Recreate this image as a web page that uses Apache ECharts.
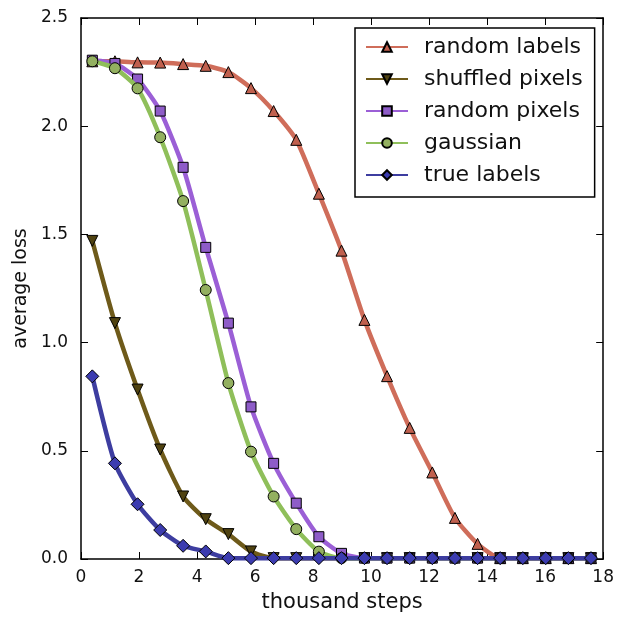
<!DOCTYPE html>
<html>
<head>
  <meta charset="utf-8" />
  <title>average loss</title>
  <script src="https://cdn.jsdelivr.net/npm/echarts@6/dist/echarts.min.js"></script>
  <style>
    html, body { margin: 0; padding: 0; background: #fff; }
    #chart { width: 617px; height: 618px; }
  </style>
</head>
<body>
  <div id="chart"></div>
  <script>
    // x positions of the markers (thousand steps)
    var steps = [0.39, 1.17, 1.95, 2.73, 3.52, 4.30, 5.08, 5.86, 6.64, 7.42, 8.20, 8.98,
                 9.77, 10.55, 11.33, 12.11, 12.89, 13.67, 14.45, 15.23, 16.02, 16.80, 17.58];

    var seriesNames = ['random labels', 'shuffled pixels', 'random pixels', 'gaussian', 'true labels'];

    var randomLabels   = [2.30, 2.30, 2.295, 2.294, 2.287, 2.279, 2.25, 2.176, 2.07, 1.937, 1.688, 1.425,
                          1.105, 0.845, 0.606, 0.40, 0.19, 0.07, 0.004, 0.004, 0.004, 0.004, 0.004];
    var shuffledPixels = [1.47, 1.09, 0.783, 0.506, 0.289, 0.184, 0.115, 0.035, 0.004, 0.004, 0.004, 0.004,
                          0.004, 0.004, 0.004, 0.004, 0.004, 0.004, 0.004, 0.004, 0.004, 0.004, 0.004];
    var randomPixels   = [2.305, 2.29, 2.218, 2.07, 1.81, 1.44, 1.09, 0.703, 0.442, 0.258, 0.103, 0.026,
                          0.004, 0.004, 0.004, 0.004, 0.004, 0.004, 0.004, 0.004, 0.004, 0.004, 0.004];
    var gaussian       = [2.30, 2.268, 2.175, 1.949, 1.654, 1.243, 0.813, 0.496, 0.289, 0.138, 0.034, 0.004,
                          0.004, 0.004, 0.004, 0.004, 0.004, 0.004, 0.004, 0.004, 0.004, 0.004, 0.004];
    var trueLabels     = [0.844, 0.442, 0.253, 0.134, 0.061, 0.035, 0.004, 0.004, 0.004, 0.004, 0.004, 0.004,
                          0.004, 0.004, 0.004, 0.004, 0.004, 0.004, 0.004, 0.004, 0.004, 0.004, 0.004];

    var allValues = [randomLabels, shuffledPixels, randomPixels, gaussian, trueLabels];
    var lineColors = ['#cf6d5a', '#6e5a1a', '#9b5fd6', '#8fbf5a', '#3d3da0'];
    var markColors = ['#c0604e', '#4f4210', '#8e5cc8', '#93b060', '#3c3cb0'];
    var symbols = ['triangle', 'triangle', 'rect', 'circle', 'diamond'];
    var symbolRot = [0, 180, 0, 0, 0];
    var symbolSizes = [11, 11, 10, 11, 13];

    var chart = echarts.init(document.getElementById('chart'), null, { renderer: 'canvas' });

    function pairs(vals) {
      return steps.map(function (x, i) { return [x, vals[i]]; });
    }

    var series = seriesNames.map(function (name, i) {
      return {
        name: name,
        type: 'line',
        data: pairs(allValues[i]),
        smooth: 0.2,
        symbol: symbols[i],
        symbolRotate: symbolRot[i],
        symbolSize: symbolSizes[i],
        showAllSymbol: true,
        clip: true,
        lineStyle: { color: lineColors[i], width: 4.5 },
        itemStyle: { color: markColors[i], borderColor: '#000', borderWidth: 1 },
        emphasis: { disabled: true },
        z: 2 + i
      };
    });

    var font = 'DejaVu Sans';
    var option = {
      backgroundColor: '#fff',
      animation: false,
      textStyle: { fontFamily: font },
      grid: { left: 81, right: 12, top: 18, bottom: 59 },
      legend: {
        orient: 'vertical',
        left: 355,
        top: 28,
        width: 240,
        padding: [7, 12, 10, 10],
        itemGap: 8,
        itemWidth: 42,
        itemHeight: 12,
        borderColor: '#000',
        borderWidth: 1.5,
        backgroundColor: '#fff',
        data: seriesNames,
        textStyle: { fontFamily: font, fontSize: 22, color: '#111', lineHeight: 24, padding: [0, 0, 0, 11] }
      },
      xAxis: [{
        type: 'value', min: 0, max: 18, interval: 2,
        name: 'thousand steps', nameLocation: 'middle', nameGap: 33,
        nameTextStyle: { fontFamily: font, fontSize: 21, color: '#111' },
        axisLine: { lineStyle: { color: '#000', width: 1.5 } },
        axisTick: { inside: true, length: 7, lineStyle: { color: '#000' } },
        axisLabel: { fontFamily: font, fontSize: 17, color: '#111', margin: 10 },
        splitLine: { show: false }
      }, {
        type: 'value', min: 0, max: 18, interval: 2, position: 'top',
        axisLine: { show: true, onZero: false, lineStyle: { color: '#000', width: 1.5 } },
        axisTick: { inside: true, length: 7, lineStyle: { color: '#000' } },
        axisLabel: { show: false },
        splitLine: { show: false }
      }],
      yAxis: [{
        type: 'value', min: 0, max: 2.5, interval: 0.5,
        name: 'average loss', nameLocation: 'middle', nameGap: 44,
        nameTextStyle: { fontFamily: font, fontSize: 19, color: '#111' },
        axisLine: { show: true, lineStyle: { color: '#000', width: 1.5 } },
        axisTick: { show: true, inside: true, length: 7, lineStyle: { color: '#000' } },
        axisLabel: { fontFamily: font, fontSize: 17, color: '#111', margin: 13,
          formatter: function (v) { return v.toFixed(1); } },
        splitLine: { show: false }
      }, {
        type: 'value', min: 0, max: 2.5, interval: 0.5, position: 'right',
        axisLine: { show: true, onZero: false, lineStyle: { color: '#000', width: 1.5 } },
        axisTick: { show: true, inside: true, length: 7, lineStyle: { color: '#000' } },
        axisLabel: { show: false },
        splitLine: { show: false }
      }],
      series: series
    };
    chart.setOption(option);
  </script>
</body>
</html>
